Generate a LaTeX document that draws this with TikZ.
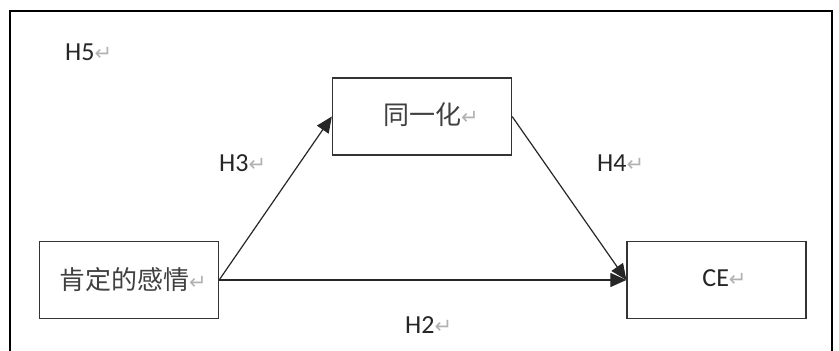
\documentclass[tikz,border=0pt]{standalone}
\usepackage{fontspec}
\setmainfont{Carlito}
\newfontfamily\cjk{Noto Sans CJK SC}
\newfontfamily\symfont{DejaVu Sans}
\usetikzlibrary{arrows.meta}

% gray paragraph mark after each text
\newcommand{\parmark}{{\symfont\color{gray!60}\fontsize{21}{22}\selectfont ↵}}

\tikzset{
  box/.style={draw=black!80, line width=1.3pt, minimum width=179pt, minimum height=77pt, inner sep=0pt},
  hyp/.style={inner sep=0pt, anchor=west, text=black!85},
  link/.style={draw=black!85, line width=1.2pt, -{Triangle[length=16pt,width=14pt]}}
}

\begin{document}
\begin{tikzpicture}[x=1pt,y=-1pt,font=\fontsize{26}{30}\selectfont]
\useasboundingbox (0,0) rectangle (839,351);

% outer frame, open below
\draw[line width=2.2pt] (10,360) -- (10,11) -- (832,11) -- (832,360);

% --- boxes ---
\node[box, text=black!75] (affect) at (129,280) {\hspace{8pt}\cjk 肯定的感情\parmark};
\node[box, text=black!75] (ident) at (422,116.5) {\raisebox{6pt}{\hspace{18pt}\cjk 同一化\parmark}};
\node[box, text=black!85] (ce) at (716.5,280) {\raisebox{3pt}{\hspace{16pt}CE\parmark}};

% --- paths ---
\draw[link] (affect.east) -- (ident.west);
\draw[link] (ident.east) -- (ce.west);
\draw[link] (affect.east) -- (ce.west);

% --- labels ---
\node[hyp] (h5) at (65,52) {H5\parmark};
\node[hyp] (h3) at (219,163) {H3\parmark};
\node[hyp] (h4) at (597,163) {H4\parmark};
\node[hyp] (h2) at (405,325) {H2\parmark};

\end{tikzpicture}
\end{document}
